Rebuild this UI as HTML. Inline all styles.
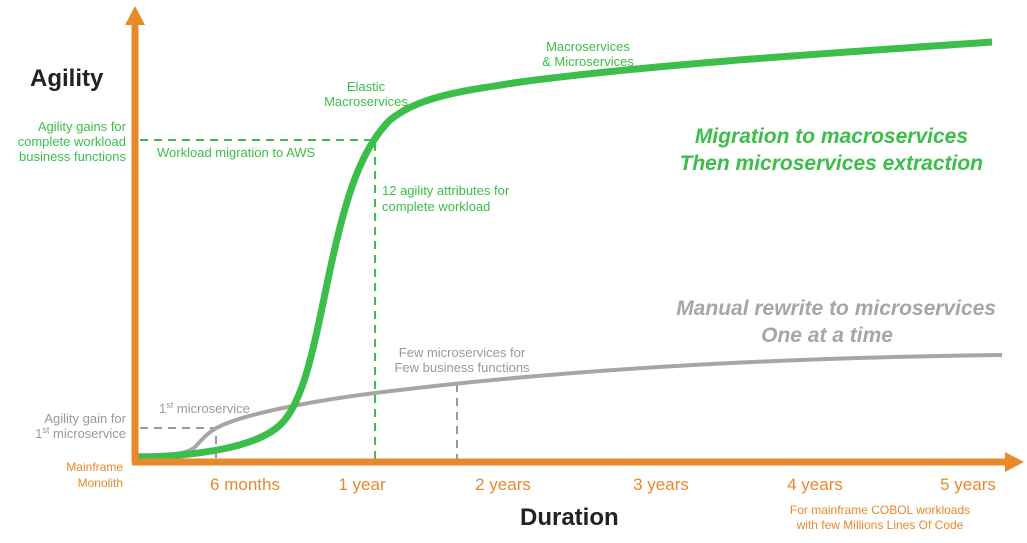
<!DOCTYPE html>
<html><head><style>
body{margin:0;background:#fff;}
svg text{font-family:"Liberation Sans",sans-serif;}
</style></head><body>
<svg width="1027" height="538" viewBox="0 0 1027 538" xmlns="http://www.w3.org/2000/svg">
<!-- dashed guides -->
<g stroke-dasharray="8,6" stroke-width="2" fill="none">
<path d="M140 140 H375 V460" stroke="#3BBE4A"/>
<path d="M140 428 H216 V460" stroke="#999"/>
<path d="M457 384 V460" stroke="#999"/>
</g>
<!-- gray curve -->
<path d="M137 455 C170 455 185 455 195 447 C205 436 210 430 225 424 C260 410 330 398 400 390 C550 372 750 358 1002 355" stroke="#A6A6A6" stroke-width="4" fill="none"/>
<!-- green curve -->
<path d="M137 458 C200 455 255 448 280 425 C305 402 315 340 330 270 C345 200 360 150 390 120 C420 95 470 90 520 82 C650 65 800 55 992 42" stroke="#3BBE4A" stroke-width="7" fill="none"/>
<!-- axes -->
<path d="M135 463 V25" stroke="#E8892B" stroke-width="7"/>
<polygon points="135,6 125,25 145,25" fill="#E8892B"/>
<path d="M132 462 H1005" stroke="#E8892B" stroke-width="7"/>
<polygon points="1024,462 1005,452 1005,472" fill="#E8892B"/>
<!-- labels -->
<text x="30" y="86" font-size="24" font-weight="bold" fill="#222">Agility</text>
<text x="520" y="525" font-size="24" font-weight="bold" fill="#222">Duration</text>
<g fill="#3BBE4A" font-size="13" text-anchor="end">
<text x="126" y="131">Agility gains for</text>
<text x="126" y="146">complete workload</text>
<text x="126" y="161">business functions</text>
</g>
<g fill="#999" font-size="13" text-anchor="end">
<text x="126" y="423">Agility gain for</text>
<text x="126" y="438">1<tspan font-size="9" dy="-5">st</tspan><tspan dy="5"> microservice</tspan></text>
</g>
<g fill="#E8892B" font-size="12" text-anchor="end">
<text x="123" y="471">Mainframe</text>
<text x="123" y="487">Monolith</text>
</g>
<g fill="#E8892B" font-size="17" text-anchor="middle">
<text x="245" y="490">6 months</text>
<text x="362" y="490">1 year</text>
<text x="503" y="490">2 years</text>
<text x="661" y="490">3 years</text>
<text x="815" y="490">4 years</text>
<text x="968" y="490">5 years</text>
</g>
<g fill="#E8892B" font-size="12" text-anchor="middle">
<text x="880" y="514">For mainframe COBOL workloads</text>
<text x="880" y="529">with few Millions Lines Of Code</text>
</g>
<g fill="#3BBE4A" font-size="13">
<text x="157" y="157">Workload migration to AWS</text>
<text x="382" y="195">12 agility attributes for</text>
<text x="382" y="211">complete workload</text>
<text x="366" y="91" text-anchor="middle">Elastic</text>
<text x="366" y="106" text-anchor="middle">Macroservices</text>
<text x="588" y="51" text-anchor="middle">Macroservices</text>
<text x="588" y="66" text-anchor="middle">&amp; Microservices</text>
</g>
<g fill="#999" font-size="13">
<text x="159" y="413">1<tspan font-size="9" dy="-5">st</tspan><tspan dy="5"> microservice</tspan></text>
<text x="462" y="357" text-anchor="middle">Few microservices for</text>
<text x="462" y="372" text-anchor="middle">Few business functions</text>
</g>
<g font-size="21" font-weight="bold" font-style="italic" text-anchor="end">
<text x="968" y="143" fill="#3BBE4A">Migration to macroservices</text>
<text x="983" y="170" fill="#3BBE4A">Then microservices extraction</text>
<text x="996" y="315" fill="#A6A6A6">Manual rewrite to microservices</text>
<text x="893" y="342" fill="#A6A6A6">One at a time</text>
</g>
</svg>
</body></html>
